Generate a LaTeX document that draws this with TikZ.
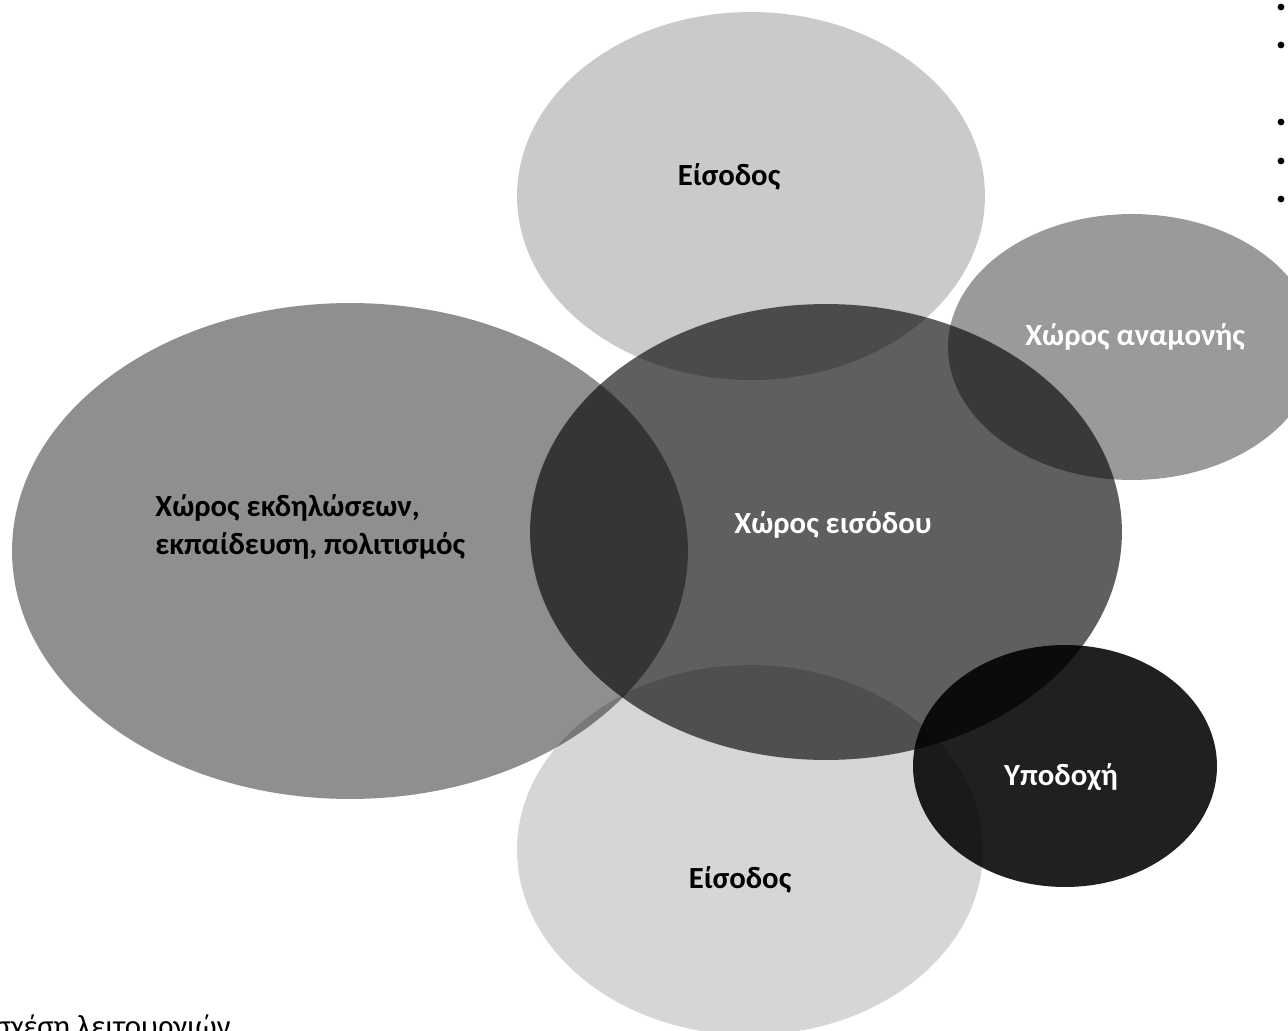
\documentclass[tikz,border=0pt]{standalone}
\usepackage{fontspec}
\setmainfont{Carlito}
\usetikzlibrary{shapes.geometric, positioning}

\definecolor{entrytop}{HTML}{CACACA}
\definecolor{entrybottom}{HTML}{D6D6D6}
\definecolor{eventsgray}{HTML}{8F8F8F}
\definecolor{lobbygray}{HTML}{5F5F5F}
\definecolor{waitgray}{HTML}{9A9A9A}
\definecolor{receptiongray}{HTML}{202020}

\tikzset{
  zone/.style = {ellipse, inner sep=0pt},
  zonetext/.style = {anchor=base, inner sep=0pt},
}

\begin{document}
\begin{tikzpicture}[x=0.02cm, y=-0.02cm, font=\fontsize{17.5}{21.2}\selectfont\bfseries]

\useasboundingbox (0,0) rectangle (1288,1031);
\fill[white] (0,0) rectangle (1288,1031);

\begin{scope}[blend group=multiply]

\node[zone, fill=entrytop, minimum width=9.36cm, minimum height=7.36cm] (entry-top) at (751,196) {};
\node[zone, fill=entrybottom, minimum width=9.32cm, minimum height=7.40cm] (entry-bottom) at (750,850) {};
\node[zone, fill=eventsgray, minimum width=13.52cm, minimum height=9.92cm] (events) at (350,551) {};
\node[zone, fill=lobbygray, minimum width=11.84cm, minimum height=9.12cm] (lobby) at (826,532) {};
\node[zone, fill=waitgray, minimum width=7.36cm, minimum height=5.32cm] (waiting) at (1132,347) {};
\node[zone, fill=receptiongray, minimum width=6.08cm, minimum height=4.84cm] (reception) at (1065,766) {};

\end{scope}

\node[zonetext] (entry-top-label) at (729,185) {Είσοδος};
\node[zonetext] (entry-bottom-label) at (740,888) {Είσοδος};
\node[zonetext, text=white] (lobby-label) at (833,533) {Χώρος εισόδου};
\node[zonetext, text=white] (waiting-label) at (1135,345) {Χώρος αναμονής};
\node[zonetext, text=white] (reception-label) at (1061,785) {Υποδοχή};
\node[anchor=west, inner sep=0pt, align=left] (events-label) at (155,527) {Χώρος εκδηλώσεων,\\εκπαίδευση, πολιτισμός};

\node[anchor=base west, inner sep=0pt, font=\fontsize{17.5}{21}\selectfont] (caption) at (-6,1036) {σχέση λειτουργιών};

\foreach \y in {7, 45, 122, 161, 199}
  \fill (1281,\y) circle (3.4);

\end{tikzpicture}
\end{document}
